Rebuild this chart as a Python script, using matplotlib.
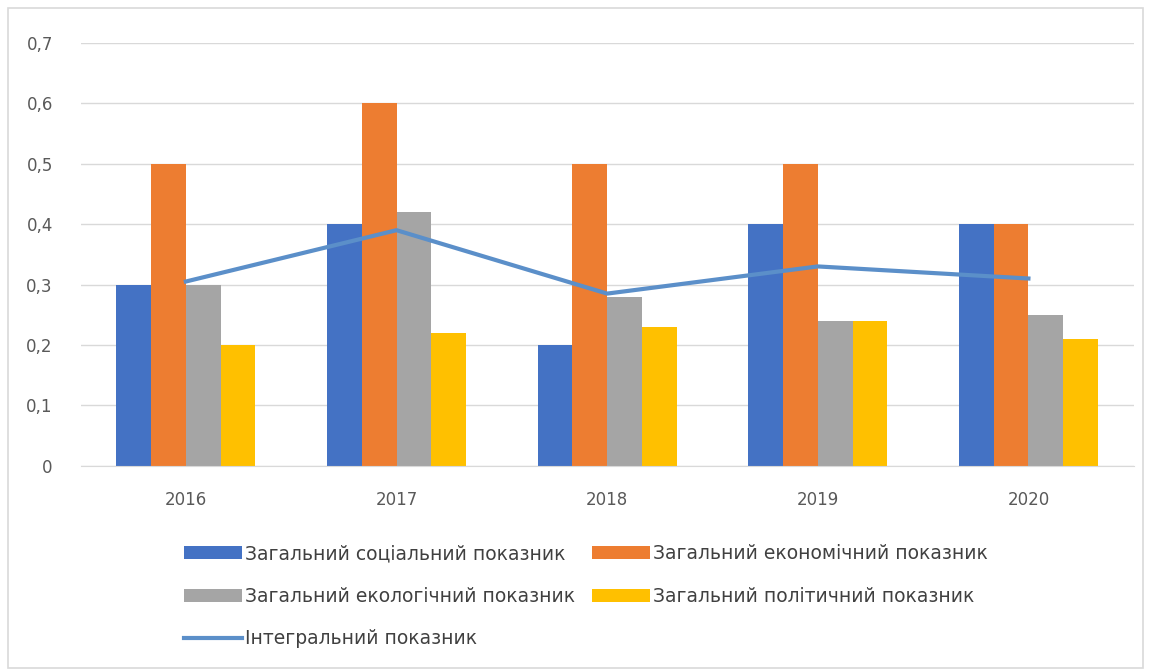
import matplotlib.pyplot as plt
import numpy as np
from matplotlib import rcParams, ticker
from matplotlib.patches import Rectangle

# Data
years = ['2016', '2017', '2018', '2019', '2020']
social = [0.30, 0.40, 0.20, 0.40, 0.40]
economic = [0.50, 0.60, 0.50, 0.50, 0.40]
ecological = [0.30, 0.42, 0.28, 0.24, 0.25]
political = [0.20, 0.22, 0.23, 0.24, 0.21]
integral = [0.305, 0.39, 0.285, 0.33, 0.31]

labels = ['Загальний соціальний показник', 'Загальний економічний показник',
          'Загальний екологічний показник', 'Загальний політичний показник',
          'Інтегральний показник']
colors = ['#4472C4', '#ED7D31', '#A5A5A5', '#FFC000']
line_color = '#5B8FC9'

rcParams['font.family'] = ['DejaVu Sans']
fig = plt.figure(figsize=(11.51, 6.72), dpi=100)
fig.patches.append(Rectangle((0.007, 0.006), 0.986, 0.982, transform=fig.transFigure,
                             fill=False, edgecolor='#d9d9d9', linewidth=1.2))
ax = fig.add_axes([0.07, 0.307, 0.915, 0.629])

x = np.arange(len(years))
w = 0.165
series = [social, economic, ecological, political]
bars = []
for i, (vals, c) in enumerate(zip(series, colors)):
    b = ax.bar(x + (i - 1.5) * w, vals, width=w, color=c, zorder=2)
    bars.append(b)
line, = ax.plot(x, integral, color=line_color, linewidth=3, zorder=3)

ax.set_xlim(-0.5, 4.5)
ax.set_ylim(0, 0.7)
ax.set_yticks(np.arange(0, 0.71, 0.1))
ax.yaxis.set_major_formatter(ticker.FuncFormatter(
    lambda v, p: '0' if abs(v) < 1e-9 else ('%.1f' % v).replace('.', ',')))
ax.set_xticks(x)
ax.set_xticklabels(years)
ax.grid(axis='y', color='#d9d9d9', linewidth=1, zorder=0)
for s in ['top', 'right', 'left']:
    ax.spines[s].set_visible(False)
ax.spines['bottom'].set_color('#d9d9d9')
ax.tick_params(axis='both', length=0, labelsize=12, labelcolor='#595959')
ax.tick_params(axis='x', pad=18)
ax.tick_params(axis='y', pad=20)

handles = [bars[0], bars[2], line, bars[1], bars[3]]
hl = [labels[0], labels[2], labels[4], labels[1], labels[3]]
fig.legend(handles, hl, ncol=2, frameon=False, loc='upper left',
           bbox_to_anchor=(0.145, 0.215), fontsize=13.5, handlelength=3.1,
           handletextpad=0.15, columnspacing=0.9, labelspacing=1.25,
           labelcolor='#404040')

plt.savefig('out.png', dpi=100)
